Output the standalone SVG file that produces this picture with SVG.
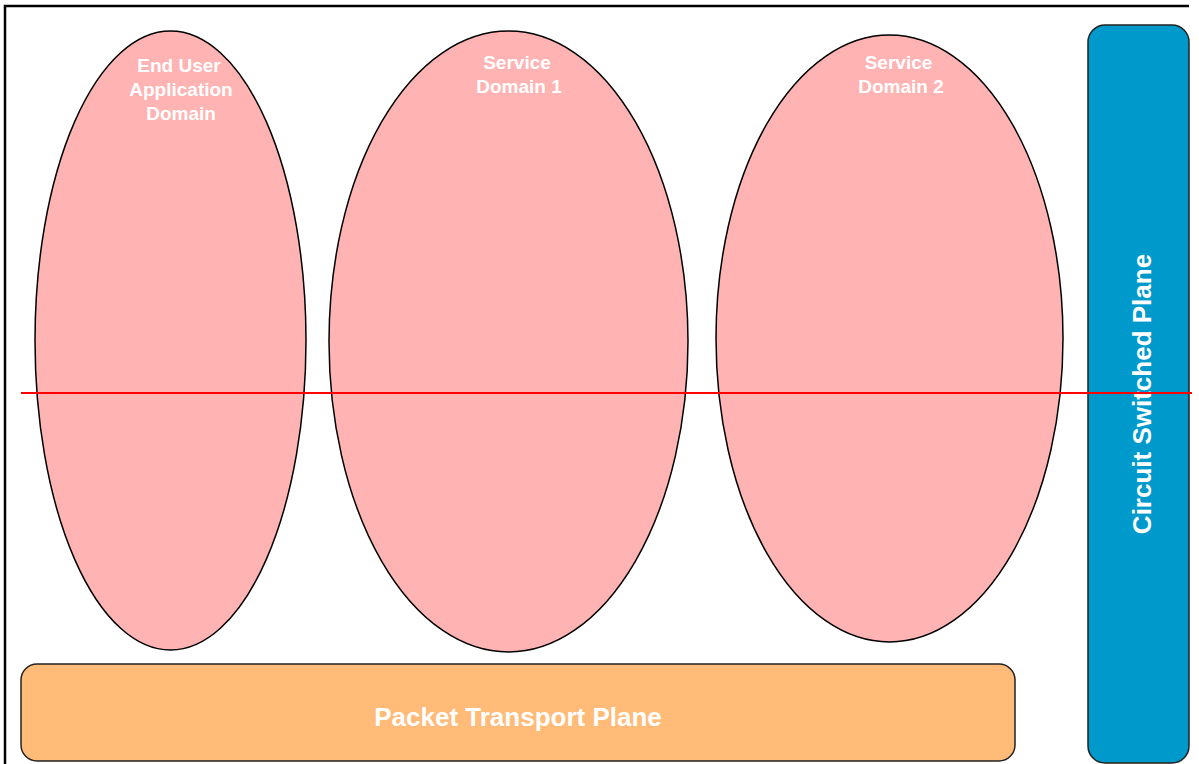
<svg xmlns="http://www.w3.org/2000/svg" width="1199" height="764" viewBox="0 0 1199 764">
<style>
.dom{fill:#FFB3B3;stroke:#000;stroke-width:1.5}
.lbl{font-family:"Liberation Sans",Arial,sans-serif;font-weight:bold;fill:#fff;text-anchor:middle}
.s19{font-size:19px}
.s26{font-size:26px}
</style>
<rect width="1199" height="764" fill="#fff"/>
<path d="M5,764 V6 H1189" fill="none" stroke="#000" stroke-width="2.5"/>
<g id="end-user-application-domain">
<ellipse class="dom" cx="170.5" cy="340.5" rx="135.5" ry="309.5"/>
<text class="lbl s19" x="179" y="72">End User</text>
<text class="lbl s19" x="181" y="96">Application</text>
<text class="lbl s19" x="181" y="120">Domain</text>
</g>
<g id="service-domain-1">
<ellipse class="dom" cx="508.5" cy="341.5" rx="179.5" ry="310.5"/>
<text class="lbl s19" x="517" y="69">Service</text>
<text class="lbl s19" x="519" y="93">Domain 1</text>
</g>
<g id="service-domain-2">
<ellipse class="dom" cx="889.5" cy="338.5" rx="173.5" ry="303.5"/>
<text class="lbl s19" x="898.5" y="69">Service</text>
<text class="lbl s19" x="901" y="93">Domain 2</text>
</g>
<g id="packet-transport-plane">
<rect x="21" y="664" width="994" height="97" rx="16" fill="#FFBB77" stroke="#222" stroke-width="1.5"/>
<text class="lbl s26" x="518" y="726">Packet Transport Plane</text>
</g>
<g id="circuit-switched-plane">
<rect x="1088" y="25" width="101" height="738" rx="17" fill="#0099CC" stroke="#222" stroke-width="1.5"/>
<text class="lbl s26" transform="translate(1150.5,394) rotate(-90)" x="0" y="0">Circuit Switched Plane</text>
</g>
<g id="connectors">
<line x1="21" y1="393" x2="1192" y2="393" stroke="#FF0000" stroke-width="1.8"/>
</g>
</svg>
